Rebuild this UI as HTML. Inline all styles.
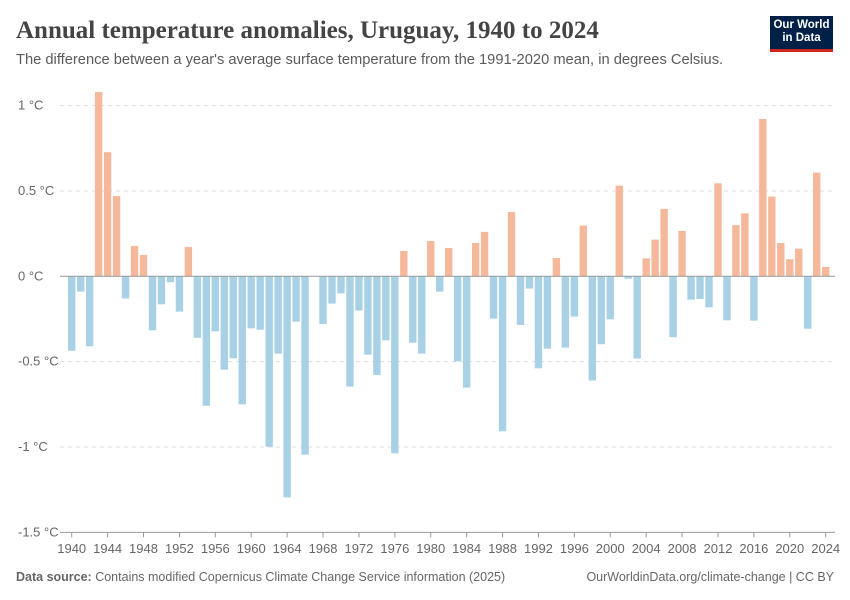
<!DOCTYPE html>
<html><head><meta charset="utf-8"><style>
body{margin:0;background:#fff;font-family:"Liberation Sans",sans-serif;}
#wrap{position:relative;width:850px;height:600px;overflow:hidden;}
.title{position:absolute;left:16px;top:17px;font-family:"Liberation Serif",serif;font-size:25px;font-weight:bold;color:#444;}
.sub{position:absolute;left:16px;top:52px;font-size:14.7px;color:#5b5b5b;}
.logo{position:absolute;left:770px;top:16px;width:63px;height:36px;background:#002147;color:#fff;font-size:11.5px;font-weight:bold;line-height:13px;text-align:center;padding-top:3px;box-sizing:border-box;border-bottom:3px solid #ce261e;}
.foot{position:absolute;top:570px;font-size:12.5px;color:#666;}
</style></head><body>
<div id="wrap">
<div class="title">Annual temperature anomalies, Uruguay, 1940 to 2024</div>
<div class="sub">The difference between a year's average surface temperature from the 1991-2020 mean, in degrees Celsius.</div>
<div class="logo">Our World<br>in Data</div>
<svg id="chart" width="850" height="600" style="position:absolute;left:0;top:0"></svg>
<div class="foot" style="left:16px"><b>Data source:</b> Contains modified Copernicus Climate Change Service information (2025)</div>
<div class="foot" style="right:16px">OurWorldinData.org/climate-change | CC BY</div>
</div>
<script>
const years=[];for(let y=1940;y<=2024;y++)years.push(y);
const values=[-0.436,-0.09,-0.41,1.08,0.727,0.47,-0.13,0.178,0.125,-0.316,-0.164,-0.035,-0.207,0.172,-0.36,-0.758,-0.322,-0.547,-0.48,-0.75,-0.305,-0.313,-0.998,-0.453,-1.295,-0.266,-1.045,0,-0.279,-0.16,-0.10,-0.646,-0.20,-0.459,-0.578,-0.375,-1.037,0.148,-0.389,-0.453,0.207,-0.09,0.166,-0.498,-0.652,0.195,0.26,-0.248,-0.908,0.377,-0.285,-0.072,-0.539,-0.424,0.107,-0.418,-0.236,0.297,-0.611,-0.398,-0.252,0.531,-0.014,-0.482,0.105,0.215,0.395,-0.357,0.266,-0.137,-0.133,-0.182,0.545,-0.258,0.30,0.369,-0.26,0.922,0.467,0.195,0.10,0.162,-0.307,0.607,0.055];
const yTicks=[1,0.5,0,-0.5,-1,-1.5];
const yTickLabels=["1 °C","0.5 °C","0 °C","-0.5 °C","-1 °C","-1.5 °C"];
const xTicks=[1940,1944,1948,1952,1956,1960,1964,1968,1972,1976,1980,1984,1988,1992,1996,2000,2004,2008,2012,2016,2020,2024];
const svg=document.getElementById('chart');const NS='http://www.w3.org/2000/svg';
const x=yr=>71.7+(yr-1940)*8.976;
const y=v=>276.3-v*170.7;
function mk(t,a){const e=document.createElementNS(NS,t);for(const k in a)e.setAttribute(k,a[k]);svg.appendChild(e);return e;}
yTicks.forEach((t,i)=>{
 if(t!==0&&t!==-1.5){const g=mk('line',{x1:60,x2:835,y1:y(t),y2:y(t),stroke:'#ddd','stroke-dasharray':'4,4'});
 
 }
 const l=mk('text',{x:18,y:y(t)+4,'font-size':13,fill:'#666','font-family':'Liberation Sans, sans-serif'});
 l.textContent=yTickLabels[i];
 
 
});
values.forEach((v,i)=>{
 const top=v>=0?y(v):y(0),h=Math.abs(y(v)-y(0));
 const r=mk('rect',{x:x(years[i])-3.7,y:top,width:7.4,height:h,fill:v>=0?'#f6b89a':'#a8d1e5'});
 
 
});
const z=mk('line',{x1:60,x2:835,y1:y(0),y2:y(0),stroke:'#999'});


const ax=mk('line',{x1:60,x2:835,y1:y(-1.5),y2:y(-1.5),stroke:'#999'});


xTicks.forEach(t=>{
 const tk=mk('line',{x1:x(t),x2:x(t),y1:y(-1.5),y2:y(-1.5)+5,stroke:'#999'});
 
 
 const l=mk('text',{x:x(t),y:553,'font-size':13,fill:'#666','text-anchor':'middle','font-family':'Liberation Sans, sans-serif'});
 l.textContent=t;
 
 
});
</script>
</body></html>
